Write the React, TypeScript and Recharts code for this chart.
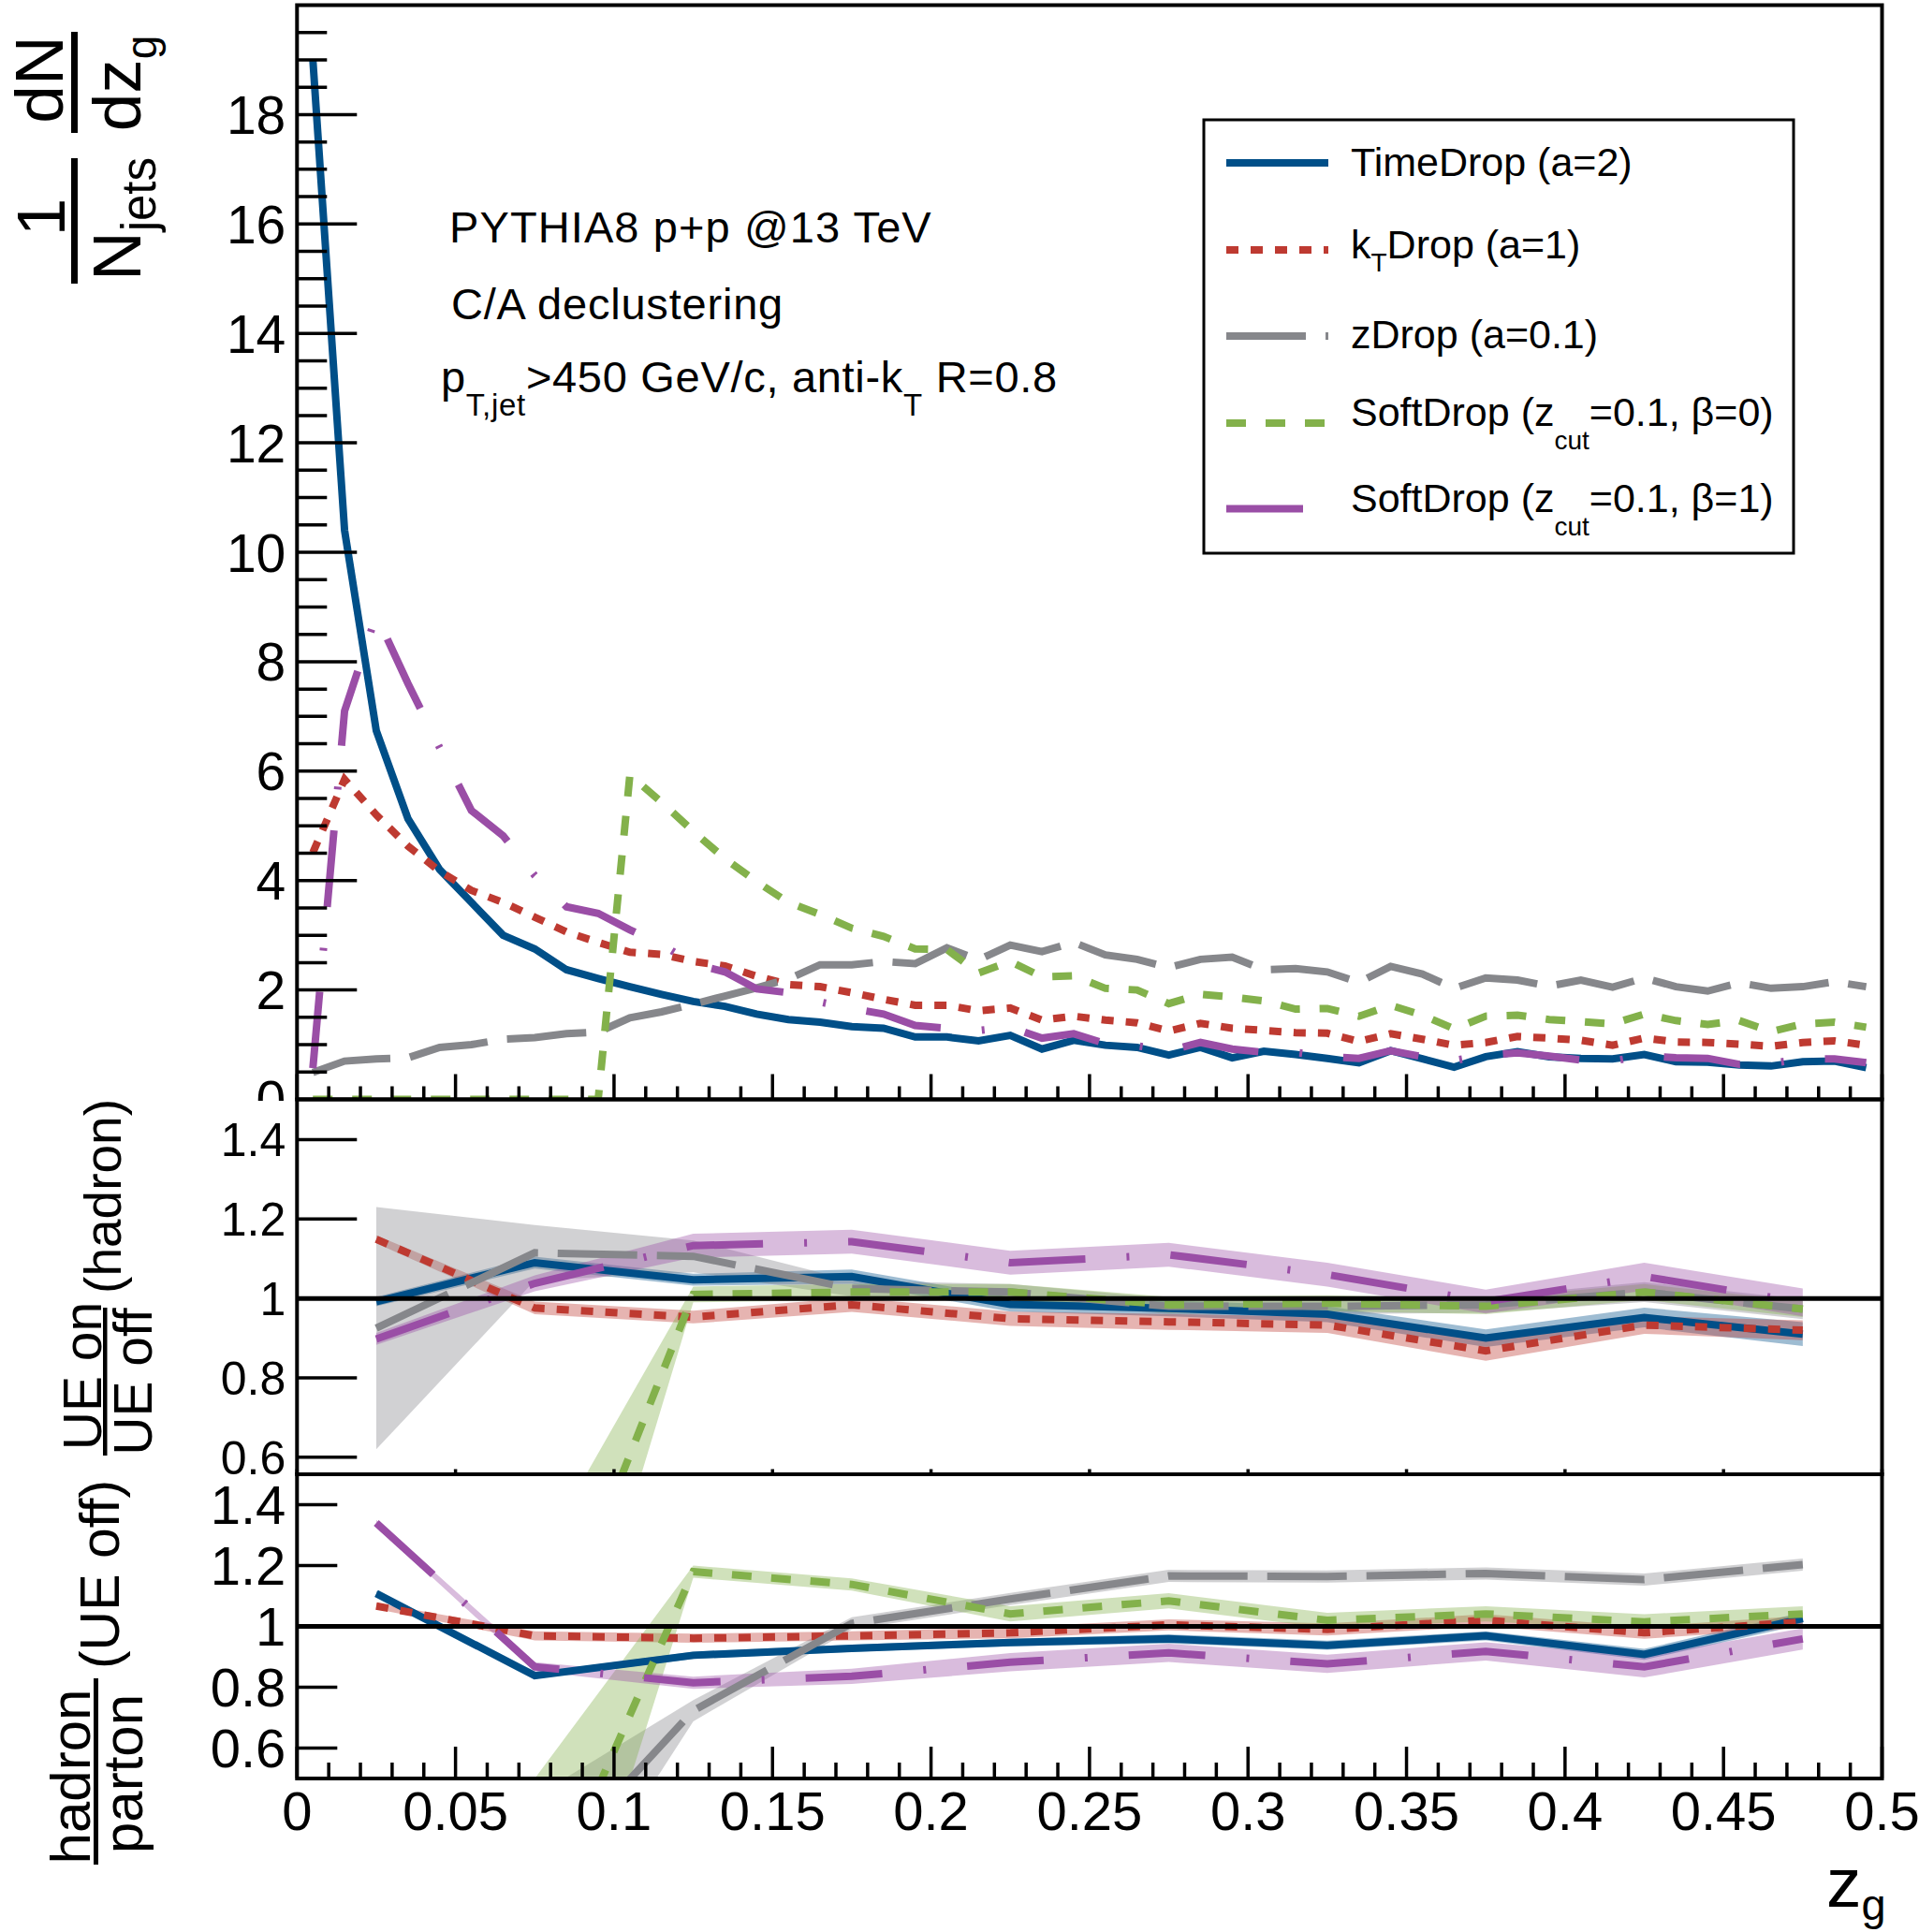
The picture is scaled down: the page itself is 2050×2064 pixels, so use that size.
import React from 'react';
import { ComposedChart, Line, Area, XAxis, YAxis, ReferenceLine } from 'recharts';

const FONT = '"Liberation Sans", Arial, Helvetica, sans-serif';

// ---------- data ----------
const zgMain = [
  0.005, 0.015, 0.025, 0.035, 0.045, 0.055, 0.065, 0.075, 0.085, 0.095,
  0.105, 0.115, 0.125, 0.135, 0.145, 0.155, 0.165, 0.175, 0.185, 0.195,
  0.205, 0.215, 0.225, 0.235, 0.245, 0.255, 0.265, 0.275, 0.285, 0.295,
  0.305, 0.315, 0.325, 0.335, 0.345, 0.355, 0.365, 0.375, 0.385, 0.395,
  0.405, 0.415, 0.425, 0.435, 0.445, 0.455, 0.465, 0.475, 0.485, 0.495,
];
const timeDropMain = [
  19.0, 10.4, 6.74, 5.13, 4.2, 3.6, 3.0, 2.75, 2.37, 2.21,
  2.06, 1.92, 1.79, 1.7, 1.56, 1.46, 1.41, 1.33, 1.3, 1.14,
  1.14, 1.07, 1.17, 0.92, 1.08, 0.99, 0.95, 0.81, 0.95, 0.76,
  0.88, 0.82, 0.75, 0.67, 0.89, 0.74, 0.59, 0.78, 0.87, 0.78,
  0.75, 0.74, 0.82, 0.69, 0.68, 0.63, 0.61, 0.69, 0.7, 0.58,
];
const ktDropMain = [
  4.51, 5.85, 5.2, 4.63, 4.17, 3.82, 3.6, 3.33, 3.06, 2.87,
  2.69, 2.65, 2.52, 2.44, 2.25, 2.1, 2.06, 1.95, 1.83, 1.72,
  1.72, 1.62, 1.67, 1.45, 1.52, 1.45, 1.4, 1.25, 1.39, 1.3,
  1.26, 1.22, 1.21, 1.06, 1.2, 1.1, 0.99, 1.04, 1.15, 1.12,
  1.08, 0.99, 1.12, 1.05, 1.04, 1.01, 0.97, 1.04, 1.07, 0.99,
];
const zDropMain = [
  0.49, 0.7, 0.74, 0.76, 0.95, 1.0, 1.1, 1.13, 1.2, 1.23,
  1.49, 1.6, 1.74, 1.89, 2.04, 2.2, 2.46, 2.46, 2.52, 2.48,
  2.77, 2.55, 2.82, 2.7, 2.87, 2.64, 2.56, 2.41, 2.56, 2.6,
  2.37, 2.39, 2.33, 2.14, 2.43, 2.29, 2.03, 2.22, 2.18, 2.07,
  2.18, 2.05, 2.22, 2.06, 1.98, 2.13, 2.03, 2.06, 2.15, 2.06,
];
const sd0Main = [
  0, 0, 0, 0, 0, 0, 0, 0, 0, 0,
  5.93, 5.43, 4.9, 4.4, 3.98, 3.6, 3.38, 3.13, 2.98, 2.75,
  2.74, 2.31, 2.52, 2.24, 2.26, 2.03, 2.0, 1.75, 1.92, 1.87,
  1.8, 1.65, 1.66, 1.52, 1.72, 1.54, 1.29, 1.52, 1.54, 1.46,
  1.42, 1.38, 1.56, 1.44, 1.37, 1.44, 1.24, 1.38, 1.41, 1.32,
];
const sd1Main = [
  0.57, 7.1, 8.85, 7.6, 6.43, 5.28, 4.82, 4.09, 3.52, 3.4,
  3.1, 2.83, 2.48, 2.33, 2.02, 1.95, 1.78, 1.66, 1.56, 1.35,
  1.3, 1.26, 1.32, 1.12, 1.2, 1.02, 0.98, 0.89, 1.04, 0.92,
  0.86, 0.86, 0.78, 0.75, 0.89, 0.78, 0.71, 0.81, 0.85, 0.79,
  0.72, 0.7, 0.8, 0.76, 0.75, 0.64, 0.66, 0.74, 0.74, 0.67,
];

const zgRatio = [0.025, 0.075, 0.125, 0.175, 0.225, 0.275, 0.325, 0.375, 0.425, 0.475];

// UE on / UE off (hadron)
const midTimeDrop = [0.992, 1.09, 1.047, 1.055, 0.985, 0.975, 0.96, 0.9, 0.952, 0.91];
const midTimeDropErr = [0.012, 0.015, 0.015, 0.018, 0.018, 0.02, 0.02, 0.022, 0.025, 0.03];
const midKtDrop = [1.149, 0.976, 0.953, 0.984, 0.949, 0.941, 0.933, 0.868, 0.933, 0.92];
const midKtDropErr = [0.01, 0.016, 0.016, 0.018, 0.018, 0.02, 0.02, 0.025, 0.022, 0.025];
const midZDrop = [0.925, 1.115, 1.106, 1.025, 1.016, 0.98, 0.98, 0.984, 1.016, 0.973];
const midZDropErr = [0.305, 0.07, 0.04, 0.02, 0.02, 0.02, 0.02, 0.02, 0.025, 0.025];
const midSd0 = [0, 0, 1.01, 1.016, 1.016, 0.984, 0.988, 0.98, 1.016, 0.973];
const midSd0Err = [0.3, 0.33, 0.02, 0.02, 0.02, 0.02, 0.02, 0.02, 0.02, 0.02];
const midSd1 = [0.898, 1.038, 1.133, 1.143, 1.09, 1.11, 1.06, 0.992, 1.055, 0.99];
const midSd1Err = [0.015, 0.02, 0.03, 0.03, 0.03, 0.03, 0.03, 0.03, 0.035, 0.035];

// hadron / parton (UE off)
const botTimeDrop = [1.108, 0.838, 0.905, 0.928, 0.947, 0.959, 0.938, 0.969, 0.908, 1.026];
const botTimeDropErr = [0.008, 0.01, 0.012, 0.012, 0.012, 0.015, 0.015, 0.015, 0.018, 0.02];
const botKtDrop = [1.067, 0.969, 0.961, 0.969, 0.979, 1.005, 0.99, 1.02, 0.979, 1.015];
const botKtDropErr = [0.01, 0.015, 0.015, 0.015, 0.018, 0.018, 0.02, 0.02, 0.02, 0.02];
const botZDrop = [0.12, 0.16, 0.723, 1.01, 1.09, 1.166, 1.164, 1.174, 1.154, 1.203];
const botZDropErr = [0.2, 0.28, 0.035, 0.02, 0.02, 0.02, 0.02, 0.02, 0.02, 0.02];
const botSd0 = [0, 0, 1.18, 1.138, 1.041, 1.084, 1.02, 1.041, 1.015, 1.041];
const botSd0Err = [0.3, 0.5, 0.02, 0.02, 0.025, 0.025, 0.025, 0.025, 0.025, 0.025];
const botSd1 = [1.34, 0.867, 0.815, 0.836, 0.882, 0.913, 0.877, 0.918, 0.867, 0.959];
const botSd1Err = [0.01, 0.015, 0.02, 0.025, 0.03, 0.03, 0.03, 0.03, 0.035, 0.035];

// ticks
const mainYTicks = Array.from({ length: 40 }, (_, i) => i * 0.5);
const xTicksFine = Array.from({ length: 51 }, (_, i) => i / 100);
const xTicksMajor = [0, 0.05, 0.1, 0.15, 0.2, 0.25, 0.3, 0.35, 0.4, 0.45, 0.5];
const ratioYTicks = [0.6, 0.8, 1, 1.2, 1.4];

// ---------- styles ----------
const series = [
  { key: 'timeDrop', color: '#004f88', dash: undefined as string | undefined, main: timeDropMain, mid: midTimeDrop, midErr: midTimeDropErr, bot: botTimeDrop, botErr: botTimeDropErr },
  { key: 'ktDrop', color: '#be3a31', dash: '13 13', main: ktDropMain, mid: midKtDrop, midErr: midKtDropErr, bot: botKtDrop, botErr: botKtDropErr },
  { key: 'zDrop', color: '#86878b', dash: '85 21', main: zDropMain, mid: midZDrop, midErr: midZDropErr, bot: botZDrop, botErr: botZDropErr },
  { key: 'sd0', color: '#83b14b', dash: '21 21', main: sd0Main, mid: midSd0, midErr: midSd0Err, bot: botSd0, botErr: botSd0Err },
  { key: 'sd1', color: '#9a4ea6', dash: '82 44 3 44', main: sd1Main, mid: midSd1, midErr: midSd1Err, bot: botSd1, botErr: botSd1Err },
];

const mainData = zgMain.map((zg, i) => {
  const r: any = { zg };
  series.forEach((s) => { r[s.key] = s.main[i]; });
  return r;
});
const buildRatio = (which: 'mid' | 'bot') => zgRatio.map((zg, i) => {
  const r: any = { zg };
  series.forEach((s) => {
    const v = (s as any)[which][i];
    const e = (s as any)[which + 'Err'][i];
    r[s.key] = v;
    r[s.key + 'Band'] = [v - e, v + e];
  });
  return r;
});
const midData = buildRatio('mid');
const botData = buildRatio('bot');

// ---------- geometry ----------
const W = 2050;
const H = 2064;
const PLOT_L = 317.3;
const PLOT_R = 2010.5;
const MAIN_TOP = 5.5;
const MAIN_BOT = 1174.5;
const MAIN_H = 1176;
const MID_BOT = 1575;
const LOW_BOT = 1900;
const AX = 1; // axis band thickness (must be > 0 so axes render)

const near = (a: number, b: number) => Math.abs(a - b) < 1e-6;
const isMult = (v: number, step: number) => near(v / step, Math.round(v / step));

const makeYTick = (majorStep: number, majorLen: number, minorLen: number, font: number, dy: number) =>
  (props: any) => {
    const { y, payload } = props;
    const v = payload.value as number;
    const major = isMult(v, majorStep);
    return (
      <g>
        <line x1={PLOT_L} x2={PLOT_L + (major ? majorLen : minorLen)} y1={y} y2={y} stroke="#000" strokeWidth={3.5} />
        {major && (
          <text x={PLOT_L - 12} y={y + dy} textAnchor="end" fontSize={font} fontFamily={FONT} fill="#000">
            {String(Math.round(v * 100) / 100)}
          </text>
        )}
      </g>
    );
  };

const makeXTick = (axisY: number, majorLen: number, minorLen: number, labels: boolean) =>
  (props: any) => {
    const { x, payload } = props;
    const v = payload.value as number;
    const major = isMult(v, 0.05);
    const len = major ? majorLen : minorLen;
    return (
      <g>
        {len > 0 && <line x1={x} x2={x} y1={axisY} y2={axisY - len} stroke="#000" strokeWidth={3.5} />}
        {labels && major && (
          <text x={x} y={axisY + 55} textAnchor="middle" fontSize={58} fontFamily={FONT} fill="#000">
            {String(Math.round(v * 100) / 100)}
          </text>
        )}
      </g>
    );
  };

const lineEls = () =>
  series.map((s) => (
    <Line
      key={s.key}
      dataKey={s.key}
      type="linear"
      stroke={s.color}
      strokeWidth={8}
      strokeDasharray={s.dash}
      dot={false}
      activeDot={false}
      isAnimationActive={false}
    />
  ));

const bandEls = () =>
  series.map((s) => (
    <Area
      key={s.key + 'Band'}
      dataKey={s.key + 'Band'}
      type="linear"
      stroke="none"
      fill={s.color}
      fillOpacity={0.38}
      isAnimationActive={false}
    />
  ));

const RotText = ({ x, y, size, children }: any) => (
  <text transform={`translate(${x},${y}) rotate(-90)`} textAnchor="middle" fontSize={size} fill="#000">
    {children}
  </text>
);

const legendRows = [
  { y: 174, base: 188 },
  { y: 267, base: 276 },
  { y: 359, base: 372 },
  { y: 452, base: 455 },
  { y: 543.5, base: 547 },
];

const legendLabel = (i: number) => {
  switch (i) {
    case 0: return <>TimeDrop (a=2)</>;
    case 1: return <>k<tspan fontSize={28} dy={13.5}>T</tspan><tspan fontSize={43} dy={-13.5}>Drop (a=1)</tspan></>;
    case 2: return <>zDrop (a=0.1)</>;
    case 3: return <>SoftDrop (z<tspan fontSize={28} dy={25}>cut</tspan><tspan fontSize={43} dy={-25}>=0.1, β=0)</tspan></>;
    default: return <>SoftDrop (z<tspan fontSize={28} dy={25}>cut</tspan><tspan fontSize={43} dy={-25}>=0.1, β=1)</tspan></>;
  }
};

export default function App() {
  const midH = MID_BOT - MAIN_BOT;
  const botH = H - MID_BOT;
  return (
    <div style={{ position: 'absolute', left: 0, top: 0, width: W, height: H, background: '#fff', overflow: 'hidden', fontFamily: FONT }}>
      {/* main panel */}
      <div style={{ position: 'absolute', left: 0, top: 0 }}>
        <ComposedChart width={W} height={MAIN_H} data={mainData}
          margin={{ top: MAIN_TOP, right: W - PLOT_R, bottom: MAIN_H - MAIN_BOT - AX, left: PLOT_L - AX }}>
          <XAxis dataKey="zg" type="number" domain={[0, 0.5]} ticks={xTicksFine} interval={0} height={AX}
            allowDataOverflow axisLine={false} tickLine={false} tickSize={0} tickMargin={0}
            tick={makeXTick(MAIN_BOT, 27, 14, false)} />
          <YAxis type="number" domain={[0, 20]} ticks={mainYTicks} interval={0} width={AX}
            allowDataOverflow axisLine={false} tickLine={false} tickSize={0} tickMargin={0}
            tick={makeYTick(2, 64, 32, 57, 20.5)} />
          {lineEls()}
        </ComposedChart>
      </div>

      {/* middle ratio panel */}
      <div style={{ position: 'absolute', left: 0, top: MAIN_BOT }}>
        <ComposedChart width={W} height={midH + AX} data={midData}
          margin={{ top: 0, right: W - PLOT_R, bottom: 0, left: PLOT_L - AX }}>
          <XAxis dataKey="zg" type="number" domain={[0, 0.5]} ticks={xTicksMajor} interval={0} height={AX}
            allowDataOverflow axisLine={false} tickLine={false} tickSize={0} tickMargin={0}
            tick={makeXTick(midH, 6, 0, false)} />
          <YAxis type="number" domain={[0.556, 1.5]} ticks={ratioYTicks} interval={0} width={AX}
            allowDataOverflow axisLine={false} tickLine={false} tickSize={0} tickMargin={0}
            tick={makeYTick(0.2, 64, 0, 50, 18)} />
          {bandEls()}
          {lineEls()}
          <ReferenceLine y={1} stroke="#000" strokeWidth={5} ifOverflow="hidden" />
        </ComposedChart>
      </div>

      {/* bottom ratio panel */}
      <div style={{ position: 'absolute', left: 0, top: MID_BOT }}>
        <ComposedChart width={W} height={botH} data={botData}
          margin={{ top: 0, right: W - PLOT_R, bottom: H - LOW_BOT - AX, left: PLOT_L - AX }}>
          <XAxis dataKey="zg" type="number" domain={[0, 0.5]} ticks={xTicksFine} interval={0} height={AX}
            allowDataOverflow axisLine={false} tickLine={false} tickSize={0} tickMargin={0}
            tick={makeXTick(LOW_BOT - MID_BOT, 34, 17, true)} />
          <YAxis type="number" domain={[0.5, 1.5]} ticks={ratioYTicks} interval={0} width={AX}
            allowDataOverflow axisLine={false} tickLine={false} tickSize={0} tickMargin={0}
            tick={makeYTick(0.2, 43, 0, 58, 20.8)} />
          {bandEls()}
          {lineEls()}
          <ReferenceLine y={1} stroke="#000" strokeWidth={5} ifOverflow="hidden" />
        </ComposedChart>
      </div>

      {/* frames, titles, annotations, legend */}
      <svg width={W} height={H} style={{ position: 'absolute', left: 0, top: 0, pointerEvents: 'none' }}
        fontFamily={FONT}>
        <rect x={PLOT_L} y={MAIN_TOP} width={PLOT_R - PLOT_L} height={MAIN_BOT - MAIN_TOP} fill="none" stroke="#000" strokeWidth={4} />
        <rect x={PLOT_L} y={MAIN_BOT} width={PLOT_R - PLOT_L} height={MID_BOT - MAIN_BOT} fill="none" stroke="#000" strokeWidth={4} />
        <rect x={PLOT_L} y={MID_BOT} width={PLOT_R - PLOT_L} height={LOW_BOT - MID_BOT} fill="none" stroke="#000" strokeWidth={4} />

        {/* main y title */}
        <RotText x={67} y={85} size={73}>dN</RotText>
        <rect x={76} y={34} width={7} height={108} fill="#000" />
        <RotText x={150} y={89} size={73}>dz<tspan fontSize={46} dy={17}>g</tspan></RotText>
        <RotText x={69} y={232} size={73}>1</RotText>
        <rect x={76} y={169} width={7} height={134} fill="#000" />
        <RotText x={150} y={234} size={73}>N<tspan fontSize={51} dy={16}>jets</tspan></RotText>

        {/* middle y title */}
        <RotText x={129} y={1278} size={55}>(hadron)</RotText>
        <RotText x={108} y={1470} size={57}>UE on</RotText>
        <rect x={110} y={1397} width={4.5} height={158} fill="#000" />
        <RotText x={162} y={1476} size={57}>UE off</RotText>

        {/* bottom y title */}
        <RotText x={127} y={1682} size={59}>(UE off)</RotText>
        <RotText x={96} y={1898} size={60}>hadron</RotText>
        <rect x={100} y={1793} width={5} height={199} fill="#000" />
        <RotText x={152} y={1895} size={60}>parton</RotText>

        {/* x title */}
        <text x={1951} y={2037} fontSize={75} fill="#000">z<tspan fontSize={47} dy={14}>g</tspan></text>

        {/* annotations */}
        <text x={480} y={259} fontSize={47} letterSpacing={1.1} fill="#000">PYTHIA8 p+p @13 TeV</text>
        <text x={482} y={341} fontSize={47} letterSpacing={0.8} fill="#000">C/A declustering</text>
        <text x={471} y={419} fontSize={47} letterSpacing={0.7} fill="#000" style={{ whiteSpace: 'pre' }}>
          p<tspan fontSize={33} dy={25}>T,jet</tspan><tspan fontSize={47} dy={-25}>{'>450 GeV/c, anti-k'}</tspan><tspan fontSize={33} dy={25}>T</tspan><tspan fontSize={47} dy={-25}>{' R=0.8'}</tspan>
        </text>

        {/* legend */}
        <rect x={1286} y={128} width={630} height={463} fill="#fff" stroke="#000" strokeWidth={3} />
        {series.map((s, i) => (
          <g key={s.key}>
            <line x1={1310} x2={1419} y1={legendRows[i].y} y2={legendRows[i].y} stroke={s.color} strokeWidth={8} strokeDasharray={s.dash} />
            <text x={1443} y={legendRows[i].base} fontSize={43} fill="#000" style={{ whiteSpace: 'pre' }}>{legendLabel(i)}</text>
          </g>
        ))}
      </svg>
    </div>
  );
}
